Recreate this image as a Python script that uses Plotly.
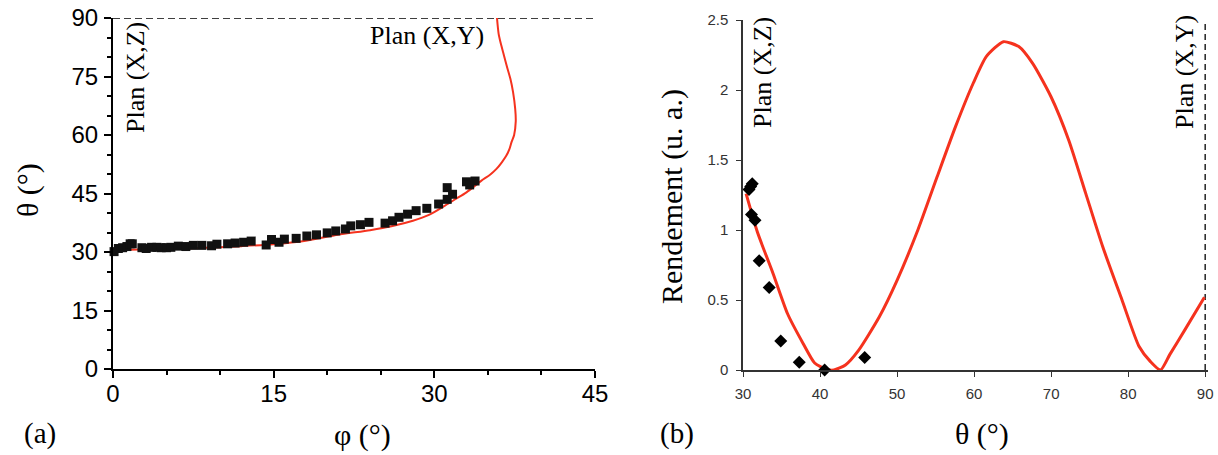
import plotly.graph_objects as go

W, H = 1218, 455

# ---- Panel (a): theta vs phi ----
phi_curve = [0, 4, 8, 12, 15, 18, 21, 24, 26, 28, 29.5, 31, 32, 33, 34.4, 35.2, 35.8,
             36.3, 36.7, 37.0, 37.2, 37.45, 37.6, 37.55, 37.35, 37.1, 36.8, 36.5, 36.2, 36.0, 35.85]
theta_curve = [30.5, 30.7, 31.0, 31.5, 32.0, 32.9, 34.4, 35.6, 36.6, 38.0, 39.5, 41.9, 43.6, 45.3,
               48.3, 49.8, 51.3, 53.0, 54.6, 56.3, 58.1, 60.0, 63.5, 66.7, 71.0, 74.4, 77.3,
               80.4, 83.5, 86.0, 90.0]

phi_meas = [0.1, 0.5, 0.9, 1.3, 1.6, 1.8, 2.7, 3.1, 3.6, 4.1, 4.5, 5.0, 5.4, 6.1, 6.8, 7.5, 8.3,
            9.2, 9.7, 10.7, 11.4, 12.2, 12.9, 14.3, 14.8, 15.5, 16.0, 17.1, 18.1, 19.0, 20.0,
            20.8, 21.7, 22.2, 23.1, 23.9, 25.4, 26.1, 26.7, 27.5, 28.3, 29.3, 30.4, 31.2, 31.2,
            31.7, 33.0, 33.3, 33.8]
theta_meas = [30.1, 30.9, 31.1, 31.4, 32.1, 32.1, 31.1, 30.9, 31.2, 31.2, 31.1, 31.1, 31.2, 31.5,
              31.4, 31.7, 31.7, 31.6, 32.0, 32.1, 32.3, 32.5, 32.8, 31.8, 33.2, 32.5, 33.3, 33.5,
              34.1, 34.4, 34.9, 35.4, 35.9, 36.7, 37.0, 37.6, 37.4, 38.0, 38.9, 39.7, 40.6, 41.2,
              42.3, 43.5, 46.5, 44.8, 48.0, 47.2, 48.2]

plane_xy_phi = [0, 45]
plane_xy_theta = [90, 90]

# ---- Panel (b): Rendement vs theta ----
theta_b_curve = [30.4, 31.9, 33.9, 35.8, 37.8, 39.3, 40.8, 41.8, 43.3, 45.0, 47.7, 50.0, 52.7,
                 55.2, 57.6, 59.9, 61.6, 63.8, 65.8, 67.6, 70.0, 72.3, 74.5, 76.7, 79.2, 81.4,
                 82.9, 84.2, 85.4, 87.4, 89.9]
rend_curve = [1.26, 0.98, 0.69, 0.40, 0.19, 0.05, 0.005, 0.0, 0.036, 0.14, 0.38, 0.64, 1.0,
              1.38, 1.74, 2.05, 2.24, 2.345, 2.31, 2.19, 1.95, 1.64, 1.26, 0.88, 0.50, 0.17,
              0.06, 0.0, 0.11, 0.29, 0.52]

theta_b_meas = [30.78, 31.0, 31.2, 31.1, 31.56, 32.1, 33.4, 34.9, 37.3, 40.6, 45.8]
rend_meas = [1.29, 1.31, 1.33, 1.11, 1.07, 0.78, 0.59, 0.207, 0.055, 0.0, 0.09]

plane_xy_b_theta = [90, 90]
plane_xy_b_rend = [0, 2.5]

RED = "#f5321e"
SERIF = "Liberation Serif, Times New Roman, serif"
SANS = "Liberation Sans, Arial, sans-serif"

fig = go.Figure()

fig.add_trace(go.Scatter(x=plane_xy_phi, y=plane_xy_theta, mode="lines",
                         line=dict(color="black", width=1.5, dash="7px,4px"),
                         cliponaxis=False, xaxis="x", yaxis="y", showlegend=False))
fig.add_trace(go.Scatter(x=phi_curve, y=theta_curve, mode="lines",
                         line=dict(color=RED, width=2, shape="spline", smoothing=0.7),
                         cliponaxis=False, xaxis="x", yaxis="y", showlegend=False))
fig.add_trace(go.Scatter(x=phi_meas, y=theta_meas, mode="markers",
                         marker=dict(symbol="square", size=9, color="#111111"),
                         cliponaxis=False, xaxis="x", yaxis="y", showlegend=False))

fig.add_trace(go.Scatter(x=plane_xy_b_theta, y=plane_xy_b_rend, mode="lines",
                         line=dict(color="#222222", width=1.5, dash="6px,4px"),
                         cliponaxis=False, xaxis="x2", yaxis="y2", showlegend=False))
fig.add_trace(go.Scatter(x=theta_b_curve, y=rend_curve, mode="lines",
                         line=dict(color=RED, width=3, shape="spline", smoothing=0.6),
                         cliponaxis=False, xaxis="x2", yaxis="y2", showlegend=False))
fig.add_trace(go.Scatter(x=theta_b_meas, y=rend_meas, mode="markers",
                         marker=dict(symbol="diamond", size=10, color="black"),
                         cliponaxis=False, xaxis="x2", yaxis="y2", showlegend=False))


def px(x):
    return x / W


def py(y):
    return 1 - y / H


axis_a = dict(showgrid=False, zeroline=False, showline=True, linecolor="black", linewidth=2,
              ticks="outside", ticklen=7, tickwidth=1.5, tickcolor="black", automargin=False,
              tickfont=dict(family=SANS, size=24, color="black"),
              minor=dict(ticks="outside", ticklen=4, tickwidth=1.5, tickcolor="black", dtick=5, showgrid=False))
axis_b = dict(showgrid=False, zeroline=False, showline=True, linecolor="#333333", linewidth=1.5,
              ticks="outside", ticklen=5, tickwidth=1.2, tickcolor="#333333", automargin=False,
              tickfont=dict(family=SANS, size=15, color="#333333"))

fig.update_layout(
    template="none",
    width=W, height=H, margin=dict(l=0, r=0, t=0, b=0, pad=0),
    paper_bgcolor="white", plot_bgcolor="white", showlegend=False,
    xaxis=dict(domain=[px(113), px(595)], range=[0, 45], tickvals=[0, 15, 30, 45], anchor="y",
               ticklabelstandoff=-5, **axis_a),
    yaxis=dict(domain=[py(369), py(18)], range=[0, 90], tickvals=[0, 15, 30, 45, 60, 75, 90], anchor="x",
               ticklabelstandoff=1, **axis_a),
    xaxis2=dict(domain=[px(743), px(1207.5)], range=[30, 90.3], tickvals=[30, 40, 50, 60, 70, 80, 90],
                anchor="y2", ticklabelstandoff=4, **axis_b),
    yaxis2=dict(domain=[py(370), py(20)], range=[0, 2.5], tickvals=[0, 0.5, 1, 1.5, 2, 2.5],
                ticktext=["0", "0.5", "1", "1.5", "2", "2.5"], anchor="x2", ticklabelstandoff=5, **axis_b),
)

annots = [
    ("θ (°)", 28, 190, 30, -90),
    ("φ (°)", 362, 435, 30, 0),
    ("(a)", 40, 433, 29, 0),
    ("Plan (X,Y)", 427, 36, 26, 0),
    ("Plan (X,Z)", 135, 78, 26, -90),
    ("Rendement (u. a.)", 672, 197, 30, -90),
    ("Plan (X,Z)", 762, 73, 26, -90),
    ("Plan (X,Y)", 1184, 72, 26, -90),
    ("θ (°)", 982, 434, 30, 0),
    ("(b)", 677, 433, 29, 0),
]
for text, x, y, size, ang in annots:
    fig.add_annotation(text=text, x=px(x), y=py(y), xref="paper", yref="paper",
                       xanchor="center", yanchor="middle", showarrow=False, textangle=ang,
                       font=dict(family=SERIF, size=size, color="black"))

fig.write_html("out.html", config={"displayModeBar": False},
               post_script="document.body.style.margin='0';document.body.style.overflow='hidden';")
